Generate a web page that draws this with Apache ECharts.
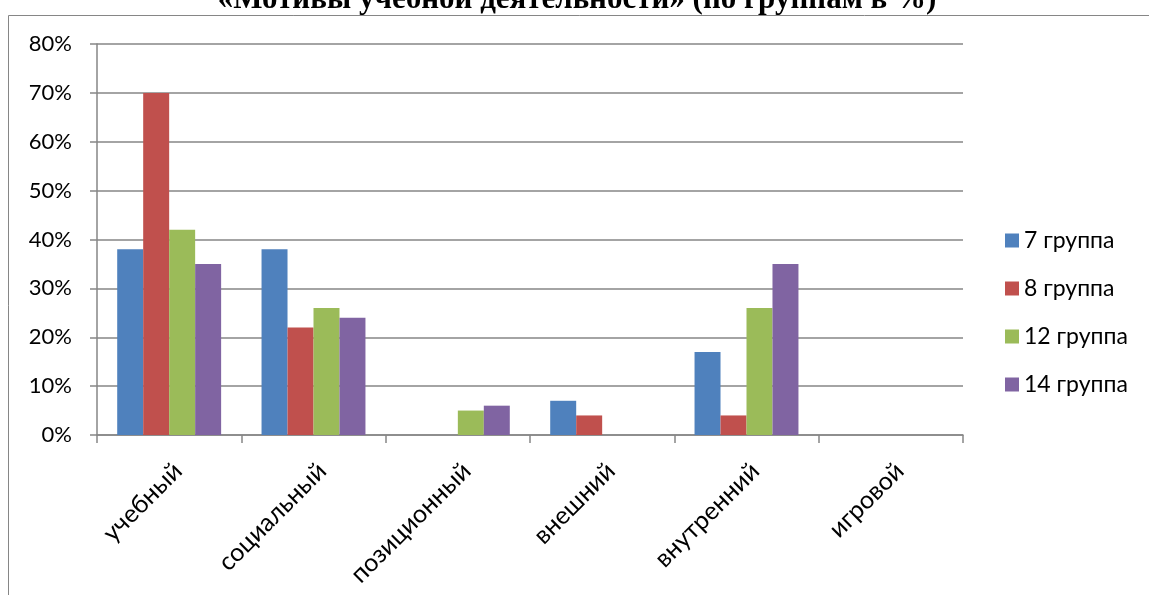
<!DOCTYPE html>
<html><head><meta charset="utf-8">
<script src="https://cdn.jsdelivr.net/npm/echarts@6/dist/echarts.min.js"></script>
<style>html,body{margin:0;padding:0;background:#fff}#c{width:1149px;height:595px}</style>
</head><body><div id="c"></div>
<script>
const titleText = '«Мотивы учебной деятельности» (по группам в %)';
const categories = ['учебный', 'социальный', 'позиционный', 'внешний', 'внутренний', 'игровой'];
const seriesNames = ['7 группа', '8 группа', '12 группа', '14 группа'];
const group7 = [38, 38, 0, 7, 17, 0];
const group8 = [70, 22, 0, 4, 4, 0];
const group12 = [42, 26, 5, 0, 26, 0];
const group14 = [35, 24, 6, 0, 35, 0];
const colors = ['#4F81BD', '#C0504D', '#9BBB59', '#8064A2'];
const seriesData = [group7, group8, group12, group14];

const font = 'Lato, "Open Sans", sans-serif';
const chart = echarts.init(document.getElementById('c'), null, {renderer: 'canvas'});
chart.setOption({
  animation: false,
  backgroundColor: '#fff',
  graphic: [
    {type: 'rect', shape: {x: 8.5, y: 15.5, width: 1200, height: 700}, style: {fill: 'none', stroke: '#868686', lineWidth: 1}, z: -1},
    {type: 'text', x: 577, y: 15, style: {text: titleText, font: 'bold 31px "Liberation Serif", "DejaVu Serif", serif', fill: '#000', align: 'center', verticalAlign: 'bottom'}}
  ],
  grid: {left: 97, right: 186, top: 44, bottom: 160, containLabel: false},
  legend: {
    orient: 'vertical', left: 1000, top: 224, itemWidth: 14, itemHeight: 14, itemGap: 25,
    icon: 'rect', textStyle: {fontFamily: font, fontSize: 23, color: '#000'},
    data: seriesNames
  },
  xAxis: {
    type: 'category', data: categories,
    axisLine: {lineStyle: {color: '#868686', width: 1.5}},
    axisTick: {show: true, length: 8, inside: false, lineStyle: {color: '#868686', width: 1.5}},
    axisLabel: {rotate: 45, margin: 23, align: 'right', verticalAlign: 'top', fontFamily: font, fontSize: 25, color: '#000', interval: 0}
  },
  yAxis: {
    type: 'value', min: 0, max: 80, interval: 10,
    axisLine: {show: true, lineStyle: {color: '#868686', width: 1.5}},
    axisTick: {show: true, length: 7, lineStyle: {color: '#868686', width: 1.5}},
    splitLine: {lineStyle: {color: '#868686', width: 1.5}},
    axisLabel: {formatter: '{value}%', margin: 25, fontFamily: font, fontSize: 22, color: '#000'}
  },
  series: seriesData.map((d, i) => ({
    name: seriesNames[i], type: 'bar', data: d,
    barGap: '0%', barCategoryGap: '28%',
    itemStyle: {color: colors[i], borderWidth: 0}
  }))
});
</script></body></html>
